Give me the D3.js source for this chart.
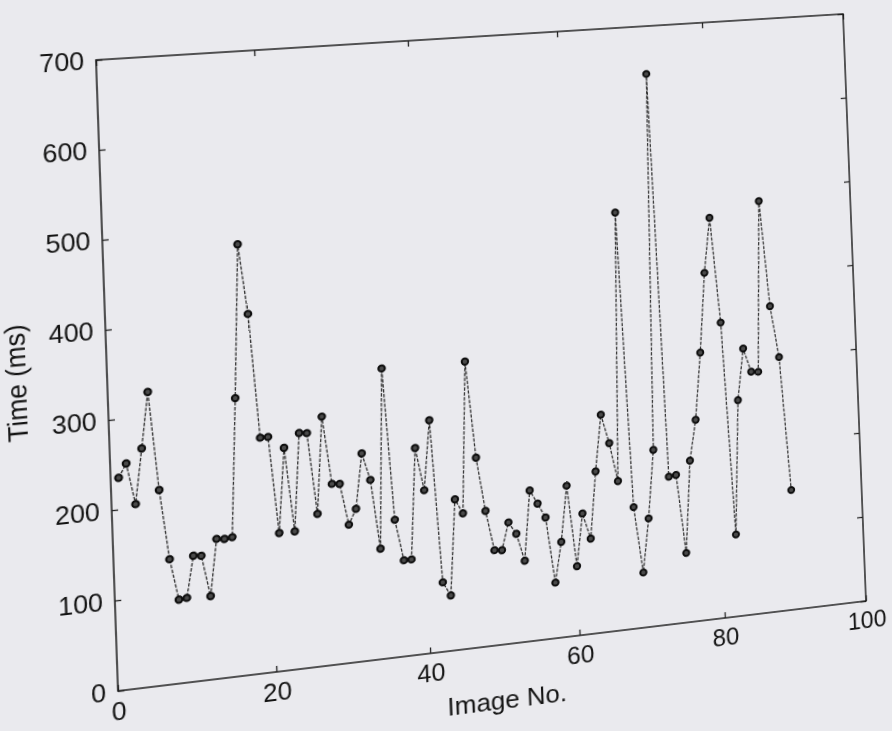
<!DOCTYPE html>
<html>
<head>
<meta charset="utf-8">
<script src="https://cdn.jsdelivr.net/npm/d3@7"></script>
<style>
  html, body { margin: 0; padding: 0; width: 892px; height: 731px; overflow: hidden; background: #eaeaee; }
  #chart { position: absolute; left: 0; top: 0; }
  #chart svg { display: block; transform-origin: 0 0; overflow: visible; font-family: "Liberation Sans", Arial, sans-serif; }
</style>
</head>
<body>
<div id="chart"></div>
<script>
const imageNo = [1, 2, 3, 4, 5, 6, 7, 8, 9, 10, 11, 12, 13, 14, 15, 16, 17, 18, 19, 20,
  21, 22, 23, 24, 25, 26, 27, 28, 29, 30, 31, 32, 33, 34, 35, 36, 37, 38, 39, 40,
  41, 42, 43, 44, 45, 46, 47, 48, 49, 50, 51, 52, 53, 54, 55, 56, 57, 58, 59, 60,
  61, 62, 63, 64, 65, 66, 67, 68, 69, 70, 71, 72, 73, 74, 75, 76, 77, 78, 79, 80,
  81, 82, 83, 84, 85, 86, 87, 88, 89, 90];
const timeMs = [235, 250, 204, 265, 327, 217, 139, 93, 94, 140, 139, 93, 156, 155, 156, 311, 483, 404, 264, 264,
  155, 250, 155, 265, 264, 172, 281, 204, 203, 156, 173, 235, 204, 125, 329, 156, 109, 109, 235, 186,
  265, 79, 63, 172, 155, 328, 217, 155, 109, 108, 139, 125, 93, 173, 157, 140, 64, 110, 174, 80,
  140, 110, 187, 252, 218, 173, 485, 141, 64, 126, 205, 644, 172, 173, 81, 188, 235, 313, 406, 470,
  346, 96, 253, 313, 285, 284, 485, 360, 299, 141];
const xTicks = [0, 20, 40, 60, 80, 100];
const yTicks = [0, 100, 200, 300, 400, 500, 600, 700];

const margin = { top: 40, right: 40, bottom: 90, left: 120 };
const width = 750, height = 630;

const svg = d3.select("#chart").append("svg")
  .attr("width", width + margin.left + margin.right)
  .attr("height", height + margin.top + margin.bottom);
const g = svg.append("g").attr("transform", `translate(${margin.left},${margin.top})`);

const x = d3.scaleLinear().domain([0, 100]).range([0, width]);
const y = d3.scaleLinear().domain([0, 700]).range([height, 0]);

// inward ticks on all four sides, labels only bottom / left
g.append("g").attr("transform", `translate(0,${height})`)
  .call(d3.axisBottom(x).tickValues(xTicks).tickSizeInner(-6).tickSizeOuter(0).tickPadding(11))
  .call(a => a.select(".domain").remove())
  .selectAll("text").style("font-size", "25px").attr("fill", "#141414");
g.append("g")
  .call(d3.axisTop(x).tickValues(xTicks).tickSizeInner(-6).tickSizeOuter(0).tickFormat(""))
  .call(a => a.select(".domain").remove());
g.append("g")
  .call(d3.axisLeft(y).tickValues(yTicks).tickSizeInner(-6).tickSizeOuter(0).tickPadding(11))
  .call(a => a.select(".domain").remove())
  .selectAll("text").style("font-size", "25px").attr("fill", "#141414");
g.append("g").attr("transform", `translate(${width},0)`)
  .call(d3.axisRight(y).tickValues(yTicks).tickSizeInner(-6).tickSizeOuter(0).tickFormat(""))
  .call(a => a.select(".domain").remove());
g.selectAll(".tick line").attr("stroke", "#222").attr("stroke-width", 1.3);

g.append("rect")
  .attr("width", width).attr("height", height)
  .attr("fill", "none").attr("stroke", "#1e1e1e").attr("stroke-width", 1.5);

const pts = imageNo.map((d, i) => ({ n: d, t: timeMs[i] }));

g.append("path")
  .datum(pts)
  .attr("fill", "none")
  .attr("stroke", "#333")
  .attr("stroke-width", 1.3)
  .attr("stroke-dasharray", "3.5,1.5")
  .attr("d", d3.line().x(d => x(d.n)).y(d => y(d.t)));

g.selectAll("circle")
  .data(pts)
  .enter().append("circle")
  .attr("cx", d => x(d.n))
  .attr("cy", d => y(d.t))
  .attr("r", 3.2)
  .attr("fill", "#4a4a4a")
  .attr("stroke", "#0d0d0d")
  .attr("stroke-width", 2);

g.append("text")
  .attr("x", width / 2)
  .attr("y", height + 66)
  .attr("text-anchor", "middle")
  .style("font-size", "26px")
  .attr("fill", "#141414")
  .text("Image No.");

g.append("text")
  .attr("transform", `translate(-75,${height / 2}) rotate(-90)`)
  .attr("text-anchor", "middle")
  .style("font-size", "26px")
  .attr("fill", "#141414")
  .text("Time (ms)");

// the page was photographed at an angle: warp the flat chart so its frame
// lands on the four frame corners seen in the picture (TL, TR, BR, BL)
const corners = [[96, 60], [843, 14], [866, 601], [118, 691]];
function squareToQuad(q) {
  const [x0, y0] = q[0], [x1, y1] = q[1], [x2, y2] = q[2], [x3, y3] = q[3];
  const dx1 = x1 - x2, dx2 = x3 - x2, dx3 = x0 - x1 + x2 - x3;
  const dy1 = y1 - y2, dy2 = y3 - y2, dy3 = y0 - y1 + y2 - y3;
  const den = dx1 * dy2 - dx2 * dy1;
  const gg = (dx3 * dy2 - dx2 * dy3) / den, hh = (dx1 * dy3 - dx3 * dy1) / den;
  return { a: x1 - x0 + gg * x1, b: x3 - x0 + hh * x3, c: x0,
           d: y1 - y0 + gg * y1, e: y3 - y0 + hh * y3, f: y0, g: gg, h: hh };
}
const m = squareToQuad(corners);
const W = width, H = height, mL = margin.left, mT = margin.top;
const mat = [
  m.a / W, m.d / W, 0, m.g / W,
  m.b / H, m.e / H, 0, m.h / H,
  0, 0, 1, 0,
  m.c - m.a * mL / W - m.b * mT / H, m.f - m.d * mL / W - m.e * mT / H, 0, 1 - m.g * mL / W - m.h * mT / H
];
svg.style("transform", `matrix3d(${mat.join(",")})`);
</script>
</body>
</html>
